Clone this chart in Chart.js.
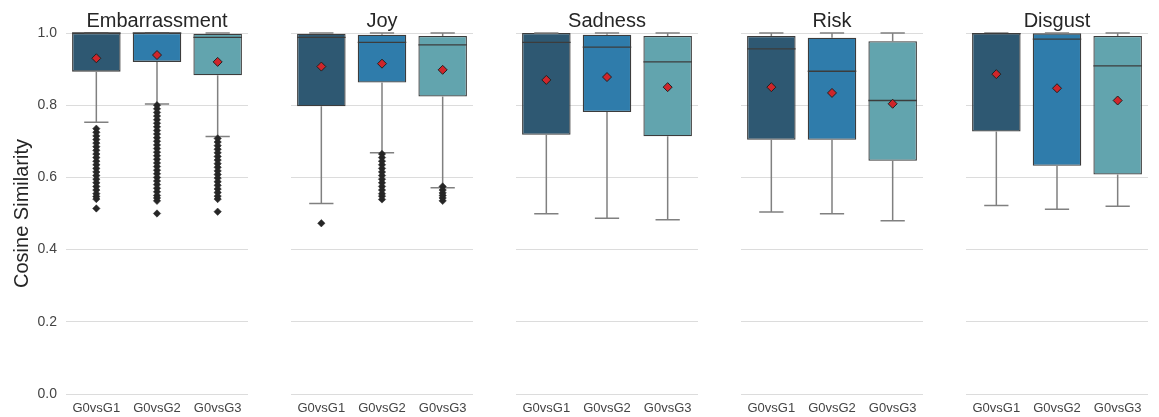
<!DOCTYPE html>
<html><head><meta charset="utf-8">
<script src="https://cdn.jsdelivr.net/npm/chart.js@4/dist/chart.umd.min.js"></script>
<style>
html,body{margin:0;padding:0;background:#fff;width:1159px;height:417px;overflow:hidden;position:relative}
canvas{position:absolute;top:0}
</style></head><body>
<canvas id="c0"></canvas><canvas id="c1"></canvas><canvas id="c2"></canvas><canvas id="c3"></canvas><canvas id="c4"></canvas>
<script>
// ---- data ----
const facetTitles = ['Embarrassment', 'Joy', 'Sadness', 'Risk', 'Disgust'];
const categories = ['G0vsG1', 'G0vsG2', 'G0vsG3'];
const yTickStep = 0.2;
const boxQ1 = [[0.893, 0.920, 0.883], [0.797, 0.863, 0.824], [0.718, 0.781, 0.714], [0.704, 0.704, 0.646], [0.727, 0.632, 0.608]];
const boxQ3 = [[1.000, 1.000, 0.998], [0.998, 0.995, 0.992], [1.000, 0.995, 0.992], [0.992, 0.987, 0.977], [1.000, 0.999, 0.992]];
const medians = [[1.000, 1.000, 0.988], [0.988, 0.974, 0.967], [0.974, 0.961, 0.920], [0.956, 0.894, 0.813], [0.998, 0.983, 0.909]];
const means = [[0.930, 0.939, 0.920], [0.907, 0.915, 0.898], [0.870, 0.878, 0.850], [0.850, 0.834, 0.804], [0.886, 0.847, 0.813]];
const whiskLow = [[0.753, 0.803, 0.713], [0.528, 0.668, 0.571], [0.499, 0.487, 0.483], [0.504, 0.499, 0.480], [0.522, 0.512, 0.520]];
const whiskHigh = [[1.000, 1.000, 1.000], [1.000, 1.000, 1.000], [1.000, 1.000, 1.000], [1.000, 1.000, 1.000], [1.000, 1.000, 1.000]];
const outliers = [
  [
    [0.735, 0.725, 0.715, 0.705, 0.695, 0.685, 0.675, 0.665, 0.655, 0.645, 0.635, 0.625, 0.615, 0.605, 0.595, 0.585, 0.575, 0.565, 0.555, 0.547, 0.540, 0.514],
    [0.800, 0.790, 0.780, 0.770, 0.760, 0.750, 0.740, 0.730, 0.720, 0.710, 0.700, 0.690, 0.680, 0.670, 0.660, 0.650, 0.640, 0.630, 0.620, 0.610, 0.600, 0.590, 0.580, 0.570, 0.560, 0.550, 0.543, 0.535, 0.500],
    [0.708, 0.698, 0.688, 0.678, 0.668, 0.658, 0.648, 0.638, 0.628, 0.618, 0.608, 0.598, 0.588, 0.578, 0.568, 0.558, 0.548, 0.540, 0.505]
  ],
  [
    [0.473],
    [0.665, 0.655, 0.645, 0.635, 0.625, 0.615, 0.605, 0.595, 0.585, 0.575, 0.565, 0.555, 0.548, 0.539],
    [0.575, 0.565, 0.557, 0.550, 0.543, 0.535]
  ],
  [[], [], []],
  [[], [], []],
  [[], [], []]
];

// ---- styles / layout ----
const boxColors = ['#2e5872', '#2f7cab', '#62a4ae'];
const edgeColor = '#3c3c3c';
const whiskerColor = '#808080';
const facetLefts = [0, 291, 516, 741, 966];
const facetWidths = [248, 182, 182, 182, 182];
const FONT = "'Liberation Sans', Arial, sans-serif";

const boxPlugin = {
  id: 'boxWhiskers',
  afterDatasetDraw(chart, args) {
    if (args.index !== 0) return;
    const f = chart.options.plugins.boxWhiskers.facet;
    const y = chart.scales.y;
    const ctx = chart.ctx;
    args.meta.data.forEach((bar, i) => {
      const x = bar.x, w = bar.width;
      const pLo = y.getPixelForValue(whiskLow[f][i]);
      const pHi = y.getPixelForValue(whiskHigh[f][i]);
      const pQ1 = y.getPixelForValue(boxQ1[f][i]);
      const pQ3 = y.getPixelForValue(boxQ3[f][i]);
      ctx.save();
      ctx.strokeStyle = whiskerColor;
      ctx.lineWidth = 1.5;
      ctx.beginPath();
      ctx.moveTo(x, pQ1); ctx.lineTo(x, pLo);
      ctx.moveTo(x - w / 4, pLo); ctx.lineTo(x + w / 4, pLo);
      ctx.moveTo(x, pQ3); ctx.lineTo(x, pHi);
      ctx.moveTo(x - w / 4, pHi); ctx.lineTo(x + w / 4, pHi);
      ctx.stroke();
      const pm = y.getPixelForValue(medians[f][i]);
      ctx.strokeStyle = edgeColor;
      ctx.lineWidth = 1.3;
      ctx.beginPath();
      ctx.moveTo(x - w / 2, pm); ctx.lineTo(x + w / 2, pm);
      ctx.stroke();
      ctx.restore();
    });
  }
};

facetTitles.forEach((title, f) => {
  const cv = document.getElementById('c' + f);
  cv.width = facetWidths[f];
  cv.height = 417;
  cv.style.left = facetLefts[f] + 'px';
  cv.style.width = facetWidths[f] + 'px';
  cv.style.height = '417px';
  const datasets = [{
    type: 'bar',
    data: categories.map((c, i) => [boxQ1[f][i], boxQ3[f][i]]),
    backgroundColor: boxColors,
    borderColor: edgeColor,
    borderWidth: 1.3,
    borderSkipped: false,
    barPercentage: 0.8,
    categoryPercentage: 1.0,
    order: 3
  }];
  categories.forEach((c, i) => {
    datasets.push({
      type: 'line',
      data: outliers[f][i].map(v => ({ x: c, y: v })),
      showLine: false,
      pointStyle: 'rectRot',
      pointRadius: 3.7,
      pointBackgroundColor: '#262626',
      pointBorderColor: '#262626',
      pointBorderWidth: 0.5,
      order: 2
    });
  });
  datasets.push({
    type: 'line',
    data: means[f],
    showLine: false,
    pointStyle: 'rectRot',
    pointRadius: 4.5,
    pointBackgroundColor: '#d0252a',
    pointBorderColor: '#222',
    pointBorderWidth: 1,
    order: 1
  });
  const first = f === 0;
  new Chart(cv, {
    type: 'bar',
    data: { labels: categories, datasets },
    plugins: [boxPlugin],
    options: {
      responsive: false,
      animation: false,
      events: [],
      devicePixelRatio: 1,
      layout: { padding: 0, autoPadding: false },
      plugins: {
        legend: { display: false },
        tooltip: { enabled: false },
        boxWhiskers: { facet: f },
        title: {
          display: true,
          text: title,
          fullSize: false,
          color: '#262626',
          font: { family: FONT, size: 20, weight: 'normal' },
          padding: { top: 9, bottom: 0 }
        }
      },
      scales: {
        x: {
          type: 'category',
          offset: true,
          grid: { display: false, drawTicks: false },
          border: { display: false },
          ticks: { color: '#444', font: { family: FONT, size: 13 }, padding: 7, maxRotation: 0, autoSkip: false },
          afterFit: s => { s.height = 23; s.paddingLeft = 0; s.paddingRight = 0; }
        },
        y: {
          min: 0, max: 1,
          grid: { color: '#dcdcdc', lineWidth: 1, drawTicks: false },
          border: { display: false },
          ticks: {
            display: first,
            stepSize: yTickStep,
            color: '#444',
            font: { family: FONT, size: 14 },
            padding: 9,
            callback: v => Number(v).toFixed(1)
          },
          title: {
            display: first,
            text: 'Cosine Similarity',
            color: '#262626',
            font: { family: FONT, size: 20 },
            padding: { top: 10, bottom: 0 }
          },
          afterFit: s => { s.width = first ? 66 : 0; }
        }
      }
    }
  });
});
</script>
</body></html>
